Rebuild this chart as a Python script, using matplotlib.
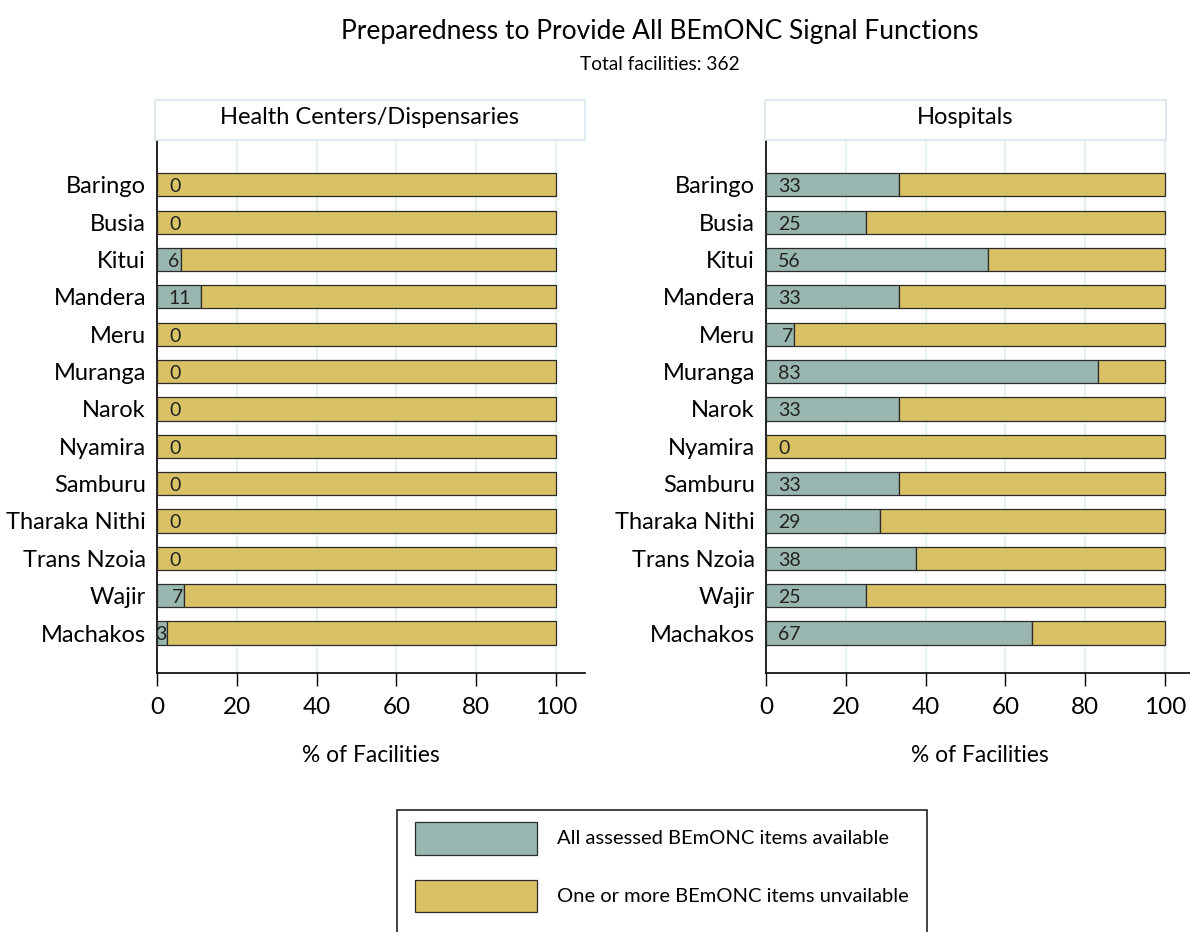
import matplotlib.pyplot as plt
from matplotlib.patches import Rectangle

plt.rcParams['font.family'] = ['Lato', 'DejaVu Sans']

# data
counties = ["Baringo", "Busia", "Kitui", "Mandera", "Meru", "Muranga", "Narok",
            "Nyamira", "Samburu", "Tharaka Nithi", "Trans Nzoia", "Wajir", "Machakos"]
hc_available = [0, 0, 5.9, 11.1, 0, 0, 0, 0, 0, 0, 0, 6.7, 2.6]
hosp_available = [33.3, 25, 55.6, 33.3, 7.1, 83.3, 33.3, 0, 33.3, 28.6, 37.5, 25, 66.7]
panel_titles = ["Health Centers/Dispensaries", "Hospitals"]
legend_labels = ["All assessed BEmONC items available", "One or more BEmONC items unvailable"]

teal = "#99b7b0"
gold = "#d9c266"
edge = "#2a2a2a"
grid_c = "#e3edf1"

W, H = 1190, 932
fig = plt.figure(figsize=(W / 100, H / 100), dpi=100)


def px_axes(x0, y0, x1, y1):
    # pixel box (top-left origin) -> figure axes
    return fig.add_axes([x0 / W, 1 - y1 / H, (x1 - x0) / W, (y1 - y0) / H])


def draw_panel(ax, avail, title, strip):
    unavail = [100 - v for v in avail]
    y = list(range(len(counties)))
    ax.barh(y, avail, height=0.62, color=teal, edgecolor=edge, linewidth=0.9, zorder=3)
    ax.barh(y, unavail, left=avail, height=0.62, color=gold, edgecolor=edge, linewidth=0.9, zorder=3)
    for yi, v in zip(y, avail):
        lab = str(int(round(v)))
        if 0 < v < 8:
            ax.text(v - 0.2, yi + 0.05, lab, ha='right', va='center', fontsize=14, color="#222222", zorder=4)
        else:
            ax.text(3, yi + 0.05, lab, ha='left', va='center', fontsize=14, color="#222222", zorder=4)
    ax.set_xlim(0, 107.3)
    ax.set_ylim(len(counties) - 1 + 1.07, -1.2)
    ax.set_yticks(y)
    ax.set_yticklabels(counties, fontsize=17)
    ax.set_xticks([0, 20, 40, 60, 80, 100])
    ax.tick_params(axis='x', labelsize=17.5, length=9, width=1, pad=8)
    ax.tick_params(axis='y', length=0, pad=8)
    ax.grid(axis='x', color=grid_c, linewidth=1.2, zorder=0)
    ax.spines['top'].set_visible(False)
    ax.spines['right'].set_visible(False)
    ax.spines['left'].set_linewidth(1.2)
    ax.spines['bottom'].set_linewidth(1.2)
    ax.set_xlabel("% of Facilities", fontsize=16.4, labelpad=20)
    # strip header
    sx0, sx1 = strip
    fig.patches.append(Rectangle((sx0 / W, 1 - 140 / H), (sx1 - sx0) / W, 40 / H,
                                 transform=fig.transFigure, facecolor="white",
                                 edgecolor="#d8e6ec", linewidth=1.2))
    fig.text((sx0 + sx1) / 2 / W, 1 - 118 / H, title, ha='center', va='center', fontsize=17)


ax1 = px_axes(157, 140, 585, 673)
draw_panel(ax1, hc_available, panel_titles[0], (155, 585))
ax2 = px_axes(766, 140, 1194, 673)
draw_panel(ax2, hosp_available, panel_titles[1], (765, 1166))

fig.text(660 / W, 1 - 32 / H, "Preparedness to Provide All BEmONC Signal Functions",
         ha='center', va='center', fontsize=19)
fig.text(660 / W, 1 - 64 / H, "Total facilities: 362", ha='center', va='center', fontsize=13.8)

# legend box
fig.patches.append(Rectangle((397 / W, 1 - 940 / H), 530 / W, 130 / H, transform=fig.transFigure,
                             facecolor="white", edgecolor="#222222", linewidth=1.2))
for (y0, y1), col, lab in zip([(822, 855), (880, 912)], [teal, gold], legend_labels):
    fig.patches.append(Rectangle((415 / W, 1 - y1 / H), 122 / W, (y1 - y0) / H,
                                 transform=fig.transFigure, facecolor=col, edgecolor=edge, linewidth=0.9))
    fig.text(557 / W, 1 - (y0 + y1) / 2 / H, lab, ha='left', va='center', fontsize=14.5)

fig.savefig("out.png", dpi=100)
